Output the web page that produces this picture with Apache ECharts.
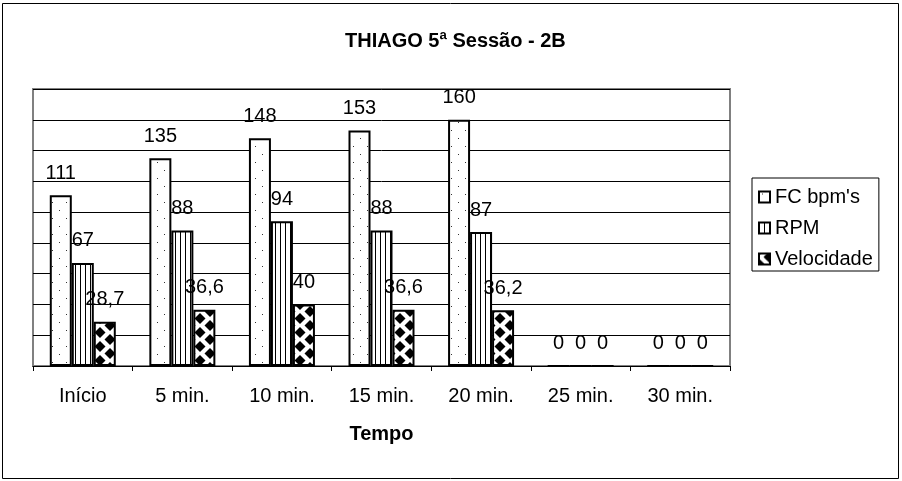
<!DOCTYPE html>
<html>
<head>
<meta charset="utf-8">
<script src="https://cdn.jsdelivr.net/npm/echarts@6/dist/echarts.min.js"></script>
<style>html,body{margin:0;padding:0;background:#fff}#c{width:902px;height:481px}</style>
</head>
<body>
<div id="c"></div>
<script>
const categories = ['Início', '5 min.', '10 min.', '15 min.', '20 min.', '25 min.', '30 min.'];
const fcValues = [111, 135, 148, 153, 160, 0, 0];
const rpmValues = [67, 88, 94, 88, 87, 0, 0];
const velValues = [28.7, 36.6, 40, 36.6, 36.2, 0, 0];
const seriesNames = ["FC bpm's", 'RPM', 'Velocidade'];

function makeTile(w, h, draw) {
  const c = document.createElement('canvas');
  c.width = w; c.height = h;
  const g = c.getContext('2d');
  g.fillStyle = '#fff'; g.fillRect(0, 0, w, h);
  draw(g);
  return c;
}
const dotTile = makeTile(14, 16, g => {
  g.fillStyle = '#333';
  g.fillRect(3, 2, 1, 1);
  g.fillRect(10, 10, 1, 1);
});
const lineTile = makeTile(5, 4, g => {
  g.fillStyle = '#000';
  g.fillRect(0, 0, 1, 4);
});
const diamondTile = makeTile(20, 14, g => {
  g.fillStyle = '#000';
  const d = (x, y, r) => {
    g.beginPath();
    g.moveTo(x, y - r); g.lineTo(x + r, y); g.lineTo(x, y + r); g.lineTo(x - r, y); g.closePath();
    g.fill();
  };
  d(10, 3.5, 5.5);
  d(10, 17.5, 5.5);
  d(0, 10.5, 5.5);
  d(20, 10.5, 5.5);
  d(0, -3.5, 5.5);
  d(20, -3.5, 5.5);
});

const FONT = 'Liberation Sans, Arial';
const fmt = p => String(p.value).replace('.', ',');
const labelCfg = {
  show: true, position: 'top', distance: 12, color: '#000',
  fontFamily: FONT, fontSize: 20, formatter: fmt
};
function bar(name, data, tile) {
  return {
    name, type: 'bar', data, barWidth: 22, barGap: '0%',
    itemStyle: { color: { image: tile, repeat: 'repeat' }, borderColor: '#000', borderWidth: 2 },
    label: labelCfg
  };
}

const chart = echarts.init(document.getElementById('c'), null, { renderer: 'canvas' });
chart.setOption({
  animation: false,
  backgroundColor: '#fff',
  title: {
    text: 'THIAGO 5ª Sessão - 2B', left: 345, top: 31, padding: 0,
    textStyle: { fontFamily: FONT, fontSize: 20, fontWeight: 'bold', color: '#000' }
  },
  legend: {
    orient: 'vertical', left: 752, top: 178, icon: 'rect',
    borderColor: '#000', borderWidth: 1, padding: [8, 6, 1, 6], itemGap: 9,
    itemWidth: 11, itemHeight: 11,
    textStyle: { fontFamily: FONT, fontSize: 20, lineHeight: 22, color: '#000' },
    data: seriesNames
  },
  grid: {
    left: 33, top: 89, right: 172, bottom: 115,
    show: true, borderColor: '#808080', borderWidth: 2, backgroundColor: '#fff'
  },
  xAxis: {
    type: 'category', data: categories,
    axisLine: { lineStyle: { color: '#000', width: 1 } },
    axisTick: { show: true, length: 5, lineStyle: { color: '#000' } },
    axisLabel: { color: '#000', fontFamily: FONT, fontSize: 20, margin: 20 },
    name: 'Tempo', nameLocation: 'middle', nameGap: 58,
    nameTextStyle: { fontFamily: FONT, fontSize: 20, fontWeight: 'bold', color: '#000' }
  },
  yAxis: {
    type: 'value', min: 0, max: 180, interval: 20,
    axisLabel: { show: false }, axisTick: { show: false }, axisLine: { show: false },
    splitLine: { lineStyle: { color: '#000', width: 1 } }
  },
  graphic: [{
    type: 'rect', shape: { x: 2.5, y: 3.5, width: 896, height: 475 },
    style: { fill: null, stroke: '#000', lineWidth: 1 }, silent: true, z: 100
  }],
  series: [
    bar(seriesNames[0], fcValues, dotTile),
    bar(seriesNames[1], rpmValues, lineTile),
    bar(seriesNames[2], velValues, diamondTile)
  ]
});
</script>
</body>
</html>
